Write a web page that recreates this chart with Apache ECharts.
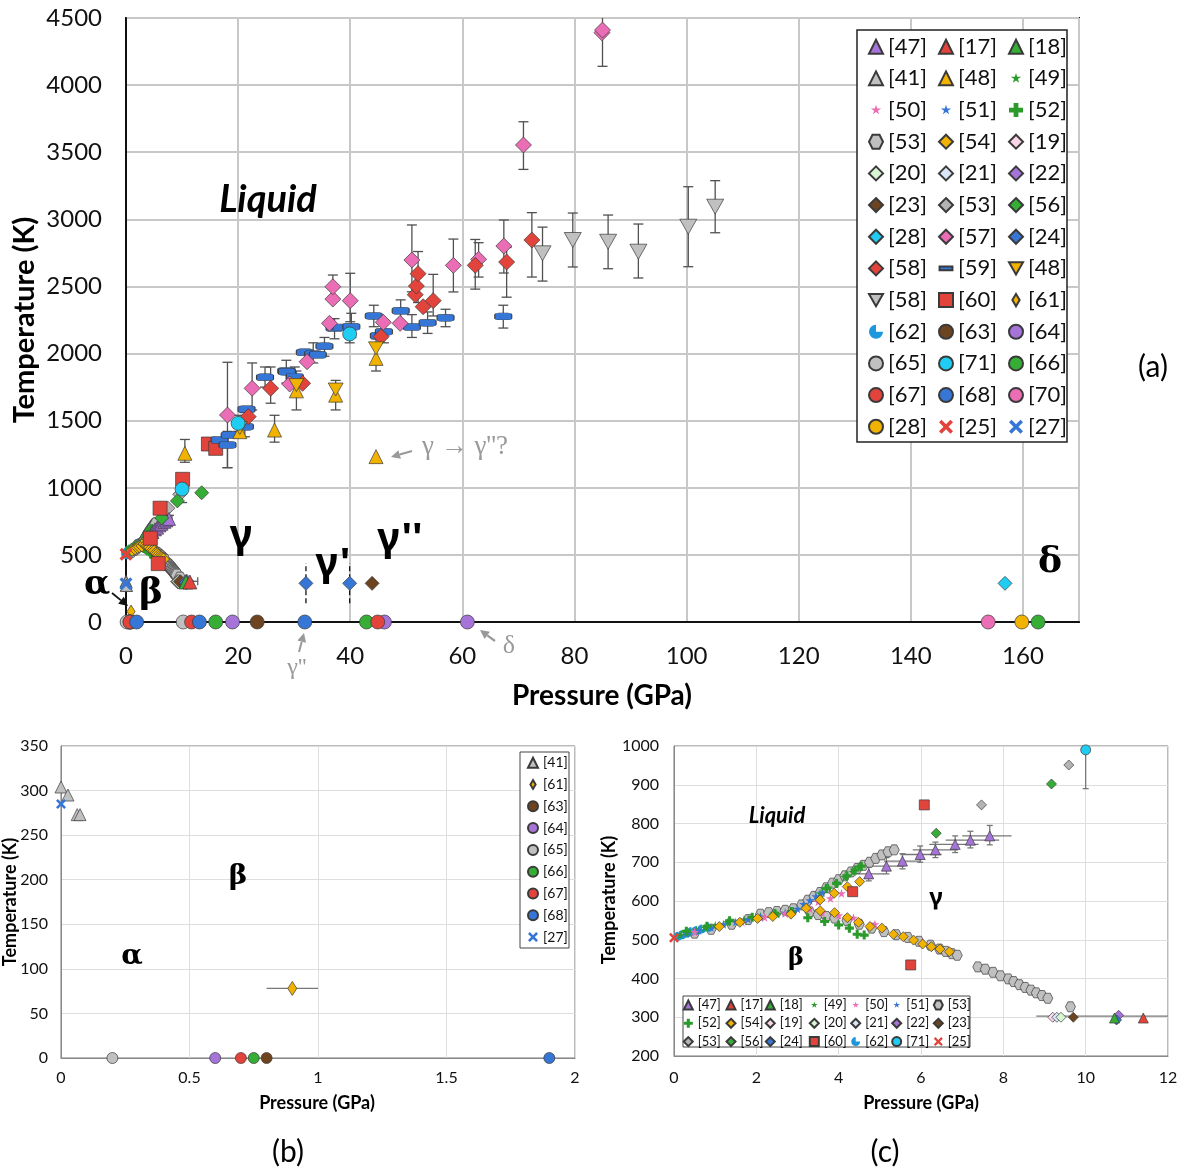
<!DOCTYPE html>
<html><head><meta charset="utf-8">
<script src="https://cdn.jsdelivr.net/npm/echarts@6/dist/echarts.min.js"></script>
<style>html,body{margin:0;padding:0;background:#fff}#c{width:1183px;height:1174px}</style>
</head><body><div id="c"></div>
<script>
// ================= DATA =================
// [P (GPa), T (K)]
const d47 = [[4.73,670],[5.16,690],[5.55,703],[5.98,720],[6.35,732],[6.83,746],[7.2,757],[7.67,768]];
const e47 = [[4.73,652,688],[5.16,670,712],[5.55,683,722],[5.98,700,742],[6.35,712,752],[6.83,725,768],[7.2,737,780],[7.67,745,795]];
const h47 = [[4.4,5.1,670],[4.8,5.6,690],[5.1,6.0,703],[5.5,6.5,720],[5.8,6.9,732],[6.2,7.4,746],[6.6,7.9,757],[7.0,8.2,768]];
const d17 = [[11.4,298]];
const d18 = [[10.7,298]];
const d19 = [[9.2,300]];
const d20 = [[9.4,300]];
const d21 = [[9.3,300]];
const d22 = [[10.8,305]];
const h22 = [[8.8,12.8,303]];
const d23 = [[9.7,300],[43.9,288]];
const d24 = [[10.75,293],[32.1,288],[39.9,288]];
const e24 = [[32.1,140,440],[39.9,140,440]];
const d25 = [[0,505]];
const d27 = [[0,285]];
const d41 = [[0,304],[0.027,295],[0.063,273],[0.074,273]];
const d28dia = [[156.8,288]];
const d28cir = [[159.8,0]];
const d48up = [[10.5,1257],[20.3,1418],[26.5,1430],[30.4,1722],[37.4,1690],[44.6,1964],[44.6,1232]];
const d48dn = [[20.3,1445],[30.4,1765],[37.4,1732],[44.6,2039]];
const e48 = [[10.5,1190,1360],[26.5,1340,1540],[30.4,1580,1870],[37.4,1580,1800],[44.6,1870,2110]];
const d49 = [[0.15,512],[0.35,519],[0.55,525],[0.75,531],[1.0,537],[1.3,545],[1.7,552],[2.1,560],[2.5,566],[2.9,574],[3.55,620],[3.75,635],[3.95,648],[4.15,662],[4.35,675],[4.5,688]];
const d50 = [[0.5,520],[1.65,546],[2.2,558],[2.7,568],[3.3,580],[3.5,598],[3.8,607],[4.07,620],[3.6,570],[4.0,563],[4.36,557],[4.88,540]];
const d51 = [[0.3,517],[0.6,524],[0.9,532],[1.2,540],[1.5,546],[1.8,553],[2.1,558],[2.4,565],[2.7,570],[3.0,580],[3.15,592],[3.3,602],[3.45,612],[3.6,622]];
const d52 = [[0.3,522],[0.8,535],[1.35,549],[1.9,558],[2.45,568],[2.85,573],[3.25,557],[3.66,547],[4.0,538],[4.26,530],[4.45,514],[4.62,512],[3.7,632],[3.95,645],[4.2,665],[4.4,680],[4.55,690]];
const d53hex = [[0.5,517],[0.9,527],[1.4,540],[1.8,552],[2.1,566],[2.3,570],[2.5,573],[2.7,576],[2.9,580],[3.1,590],[3.25,602],[3.4,612],[3.55,622],[3.7,634],[3.85,646],[4.0,655],[4.15,665],[4.3,675],[4.45,684],[4.6,692],[4.75,700],[4.9,710],[5.05,719],[5.2,727],[5.35,732],
  [3.3,572],[3.5,565],[3.7,560],[3.9,556],[4.2,550],[4.5,540],[4.8,530],[5.1,521],[5.4,513],[5.68,506],[5.95,496],[6.23,486],[6.45,476],[6.6,470],[6.75,464],[6.88,460],
  [7.38,430],[7.56,424],[7.75,416],[7.93,407],[8.12,399],[8.25,392],[8.39,384],[8.53,377],[8.67,370],[8.8,363],[8.94,356],[9.08,349],[9.63,327]];
const d53dia = [[7.47,848],[9.59,951]];
const d54 = [[1.1,534],[1.6,545],[2.03,555],[2.4,560],[2.84,566],[3.21,581],[3.55,603],[3.89,620],[4.21,637],[4.51,650],[3.55,575],[3.9,570],[4.21,557],[4.48,545],[4.76,534],[5.05,530],[5.33,514],[5.57,508],[5.82,499],[6.04,489],[6.25,482],[6.46,476],[6.69,469]];
const d56 = [[6.37,775],[9.17,902],[13.5,963]];
const d57 = [[18.1,1542],[22.5,1741],[29.2,1773],[32.3,1939],[36.3,2225],[36.9,2406],[36.9,2498],[40.0,2394],[45.9,2233],[48.9,2225],[51.0,2697],[58.4,2657],[62.9,2702],[67.4,2801],[70.9,3554],[84.9,4390],[85.0,4410]];
const e57 = [[18.1,1150,1935],[22.5,1580,1930],[36.9,2420,2585],[40.0,2237,2598],[51.0,2460,2958],[58.4,2459,2853],[62.9,2570,2826],[67.4,2600,2995],[70.9,3372,3727],[85.0,4140,4560]];
const d58dia = [[21.8,1530],[25.8,1741],[31.5,1778],[45.5,2126],[51.6,2438],[51.8,2503],[52.1,2595],[53.0,2349],[54.8,2394],[62.3,2657],[67.9,2682],[72.4,2846]];
const e58dia = [[25.8,1630,1900],[52.1,2380,2760],[54.8,2280,2590],[62.3,2480,2850],[67.9,2420,2790],[72.4,2570,3050]];
const d58tri = [[74.3,2747],[79.7,2846],[86.0,2833],[91.4,2759],[100.3,2945],[105.1,3094]];
const e58tri = [[74.3,2540,2942],[79.7,2645,3047],[86.0,2632,3032],[91.4,2563,2965],[100.3,2647,3243],[105.1,2900,3288]];
const d59 = [[16.7,1356],[18.1,1319],[18.5,1393],[21.2,1455],[21.5,1585],[24.8,1823],[28.6,1870],[28.7,1865],[30.1,1828],[31.9,2009],[33.4,1997],[34.2,1991],[35.4,2054],[37.2,2190],[38.4,2195],[40.2,2200],[44.2,2280],[45.1,2133],[46.0,2163],[49.0,2319],[51.0,2198],[53.8,2230],[57.0,2267],[67.3,2277]];
const e59 = [[18.1,1150,1420],[21.2,1380,1560],[24.8,1750,1900],[28.6,1780,1950],[30.1,1760,1900],[33.4,1930,2080],[35.4,1980,2120],[37.2,2110,2260],[40.2,2120,2300],[44.2,2200,2360],[46.0,2080,2250],[49.0,2240,2400],[51.0,2120,2290],[53.8,2150,2310],[57.0,2200,2330],[67.3,2190,2360]];
const d60 = [[4.34,624],[5.75,435],[6.08,848],[10.1,1063],[14.7,1326],[16.0,1294]];
const d61 = [[0.9,78]];
const h61 = [[0.8,1.0,78]];
const d62 = [[0.1,509],[0.2,513],[0.32,517],[0.42,521],[0.55,524],[0.68,528],[0.85,532]];
const d63 = [[0.8,0],[23.4,0]];
const d64 = [[0.6,0],[19.0,0],[46.1,0],[60.9,0]];
const d65 = [[0.2,0],[10.2,0]];
const d66 = [[0.75,0],[16.0,0],[42.9,0],[162.7,0]];
const d67 = [[0.7,0],[11.7,0],[44.9,0]];
const d68 = [[1.9,0],[13.1,0],[31.9,0]];
const d70 = [[153.8,0]];
const d71 = [[10.0,990],[20.0,1480],[39.9,2146]];
const e71 = [[10.0,890,1000],[20.0,1420,1540],[39.9,2080,2210]];

// legend columns
const legA1 = ['[47]','[41]','[50]','[53]','[20]','[23]','[28]','[58]','[58] ','[62]','[65]','[67]','[28] '];
const legA2 = ['[17]','[48]','[51]','[54]','[21]','[53] ','[57]','[59]','[60]','[63]','[71]','[68]','[25]'];
const legA3 = ['[18]','[49]','[52]','[19]','[22]','[56]','[24]','[48] ','[61]','[64]','[66]','[70]','[27]'];
const legB = ['[41]','[61]','[63]','[64]','[65]','[66]','[67]','[68]','[27]'];
const legC = [['[47]','[52]','[53] '],['[17]','[54]','[56]'],['[18]','[19]','[24]'],['[49]','[20]','[60]'],['[50]','[21]','[62]'],['[51]','[22]','[71]'],['[53]','[23]','[25]']];

// ================= STYLE =================
const F = 'Lato, "Open Sans", "DejaVu Sans", sans-serif';
const FS = '"DejaVu Serif", "Liberation Serif", serif';
const FG = '"Noto Sans", "DejaVu Sans", sans-serif';
const P = {purple:'#A673D8', red:'#E2443C', green:'#36AE36', dgreen:'#2A9A2A', gray:'#C0C0C0', gray2:'#B4B4B4', orange:'#F2B200', pink:'#EA6DB5', blue:'#3576D6', brown:'#6E4420', cyan:'#1FCDF3', cyanDark:'#1B98DC', lpink:'#FAD6E8', lgreen:'#D8F5D4', lblue:'#D8E6F8'};
const symTriDown = 'path://M0,0L100,0L50,87Z';
const symStar = 'path://M50,0L61,35L98,35L68,56L79,90L50,69L21,90L32,56L2,35L39,35Z';
const symPlus = 'path://M33,0H67V33H100V67H67V100H33V67H0V33H33Z';
const symX = 'path://M18,0L50,32L82,0L100,18L68,50L100,82L82,100L50,68L18,100L0,82L32,50L0,18Z';
const symHex = 'path://M25,0H75L100,50L75,100H25L0,50Z';
const symPac = 'path://M50,50L100,50A50,50 0 1 1 50,0Z';
const icoStar = 'path://M-15,-15M115,115M50,0L61,35L98,35L68,56L79,90L50,69L21,90L32,56L2,35L39,35Z';
const icoDash = 'path://M0,0M100,100M4,36H96V64H4Z';
const icoSmallDia = 'path://M0,0M100,100M50,6L76,50L50,94L24,50Z';
const LEG_ICON = {'[49]':icoStar,'[50]':icoStar,'[51]':icoStar,'[59]':icoDash,'[61]':icoSmallDia};
const NO_BORDER = {'[49]':1,'[50]':1,'[51]':1,'[25]':1,'[27]':1,'[52]':1,'[62]':1};

const STY = {
 '[47]':['triangle',P.purple,d47], '[17]':['triangle',P.red,d17], '[18]':['triangle',P.green,d18],
 '[41]':['triangle',P.gray,d41], '[48]':['triangle',P.orange,d48up], '[49]':[symStar,P.dgreen,d49],
 '[50]':[symStar,P.pink,d50], '[51]':[symStar,P.blue,d51], '[52]':[symPlus,P.dgreen,d52],
 '[53]':[symHex,P.gray,d53hex], '[54]':['diamond',P.orange,d54], '[19]':['diamond',P.lpink,d19],
 '[20]':['diamond',P.lgreen,d20], '[21]':['diamond',P.lblue,d21], '[22]':['diamond',P.purple,d22],
 '[23]':['diamond',P.brown,d23], '[53] ':['diamond',P.gray2,d53dia], '[56]':['diamond',P.green,d56],
 '[28]':['diamond',P.cyan,d28dia], '[57]':['diamond',P.pink,d57], '[24]':['diamond',P.blue,d24],
 '[58]':['diamond',P.red,d58dia], '[59]':['roundRect',P.blue,d59], '[48] ':[symTriDown,P.orange,d48dn],
 '[58] ':[symTriDown,P.gray,d58tri], '[60]':['rect',P.red,d60], '[61]':['diamond',P.orange,d61],
 '[62]':[symPac,P.cyanDark,d62], '[63]':['circle',P.brown,d63], '[64]':['circle',P.purple,d64],
 '[65]':['circle',P.gray,d65], '[71]':['circle',P.cyan,d71], '[66]':['circle',P.green,d66],
 '[67]':['circle',P.red,d67], '[68]':['circle',P.blue,d68], '[70]':['circle',P.pink,d70],
 '[28] ':['circle',P.orange,d28cir], '[25]':[symX,P.red,d25], '[27]':[symX,P.blue,d27]
};
const sizeA = n => ({'[49]':10,'[50]':10,'[51]':10,'[52]':11,'[53]':12,'[54]':12,'[62]':11,'[59]':[17,7],'[61]':[8,13],'[57]':16,'[58]':16,'[58] ':[17,15],'[48] ':[15,13],'[47]':13,'[25]':13,'[27]':13,'[41]':12}[n] || 14);
const sizeB = n => ({'[61]':[9,14],'[27]':10,'[41]':12}[n] || 11);
const sizeC = n => ({'[49]':9,'[50]':9,'[51]':9,'[52]':9,'[62]':9}[n] || 10);

const orderA = ['[53]','[53] ','[62]','[49]','[51]','[50]','[52]','[54]','[47]','[19]','[21]','[20]','[23]','[22]','[24]','[18]','[17]','[41]','[61]','[25]','[27]','[56]','[60]','[59]','[57]','[58]','[58] ','[48]','[48] ','[71]','[28]','[63]','[64]','[65]','[66]','[67]','[68]','[70]','[28] '];
const orderB = ['[41]','[61]','[65]','[64]','[67]','[66]','[63]','[68]','[27]'];
const orderC = ['[53]','[62]','[49]','[51]','[50]','[52]','[54]','[47]','[53] ','[19]','[21]','[20]','[23]','[22]','[24]','[18]','[17]','[56]','[60]','[71]','[25]'];

function scat(name, g, size) {
  const s = STY[name];
  const nb = NO_BORDER[name];
  return {type:'scatter', name, data:s[2], xAxisIndex:g, yAxisIndex:g, symbol:s[0], symbolSize:size,
    itemStyle:{color:s[1], borderColor: nb ? s[1] : '#3a3a3a', borderWidth: nb ? 0 : 0.7, opacity:1},
    emphasis:{disabled:true}, z:3, clip:true, silent:true};
}
function st(color, dash){ const o={stroke:color, lineWidth:1.3}; if(dash) o.lineDash=[5,3]; return o; }
function vErr(cap, color, dash){
  return function(params, api){
    const x=api.value(0), a=api.coord([x,api.value(1)]), b=api.coord([x,api.value(2)]);
    const ch=[{type:'line',shape:{x1:a[0],y1:a[1],x2:b[0],y2:b[1]},style:st(color,dash)}];
    if(cap){
      ch.push({type:'line',shape:{x1:a[0]-cap,y1:a[1],x2:a[0]+cap,y2:a[1]},style:st(color)});
      ch.push({type:'line',shape:{x1:b[0]-cap,y1:b[1],x2:b[0]+cap,y2:b[1]},style:st(color)});
    }
    return {type:'group',children:ch};
  };
}
function hErr(cap, color){
  return function(params, api){
    const y=api.value(2), a=api.coord([api.value(0),y]), b=api.coord([api.value(1),y]);
    const ch=[{type:'line',shape:{x1:a[0],y1:a[1],x2:b[0],y2:b[1]},style:st(color)}];
    if(cap){
      ch.push({type:'line',shape:{x1:a[0],y1:a[1]-cap,x2:a[0],y2:a[1]+cap},style:st(color)});
      ch.push({type:'line',shape:{x1:b[0],y1:b[1]-cap,x2:b[0],y2:b[1]+cap},style:st(color)});
    }
    return {type:'group',children:ch};
  };
}
function errSeries(g, data, fn, horiz){
  return {type:'custom', name:'err'+g, xAxisIndex:g, yAxisIndex:g, data, renderItem:fn, clip:true, z:2, silent:true,
    encode: horiz ? {x:[0,1], y:2} : {x:0, y:[1,2]}};
}

const series = [];
series.push(errSeries(0, [].concat(e57,e58dia,e58tri,e59,e48,e71,e47), vErr(5,'#505050')));
series.push(errSeries(0, [].concat(h47,h22,h61), hErr(4,'#606060'), true));
series.push(errSeries(0, e24, vErr(0,'#111',true)));
orderA.forEach(n => series.push(scat(n,0,sizeA(n))));
series.push(errSeries(1, h61, hErr(0,'#777'), true));
orderB.forEach(n => series.push(scat(n,1,sizeB(n))));
series.push(errSeries(2, [].concat(e47,e71), vErr(3,'#777')));
series.push(errSeries(2, [].concat(h47,h22), hErr(0,'#777'), true));
orderC.forEach(n => series.push(scat(n,2,sizeC(n))));

function legendCol(names, left, top, iw, fs, gap){
  return {orient:'vertical', left, top, padding:0, itemWidth:iw, itemHeight:iw, itemGap:gap, selectedMode:false, z:6,
    textStyle:{fontSize:fs, lineHeight:fs, fontFamily:F, color:'#111'},
    data:names.map(n => {
      const o = {name:n};
      if (LEG_ICON[n]) o.icon = LEG_ICON[n];
      if (NO_BORDER[n]) o.itemStyle = {color:STY[n][1], borderWidth:0};
      return o;
    })};
}
const legends = [
  legendCol(legA1, 868, 35.7, 14, 22, 9.67),
  legendCol(legA2, 938, 35.7, 14, 22, 9.67),
  legendCol(legA3, 1008, 35.7, 14, 22, 9.67),
  legendCol(legB, 527, 755.7, 10, 14, 7.8)
];
const legCx = [687.3,730,769.3,813.3,854.7,895.7,937.3];
legC.forEach((col,i) => legends.push(legendCol(col, legCx[i]-4.5, 998.5, 9, 13, 5.3)));

const plain = v => String(v);
function axes(g, min, max, step, fs, margin, lineColor, splitColor, splitW, fmt){
  return {gridIndex:g, type:'value', min, max, interval:step,
    axisLine:{show:true, onZero:false, lineStyle:{color:lineColor, width:splitW}},
    axisTick:{show:false},
    splitLine:{show:true, lineStyle:{color:splitColor, width:splitW}},
    axisLabel:{fontSize:fs, color:'#111', fontFamily:F, margin, formatter:fmt || plain}};
}

function arrow(x1,y1,x2,y2,color,w){
  const ang=Math.atan2(y2-y1,x2-x1), L=9, W=4.5;
  const bx=x2-L*Math.cos(ang), by=y2-L*Math.sin(ang);
  const px=-Math.sin(ang)*W, py=Math.cos(ang)*W;
  return [{type:'line',shape:{x1,y1,x2:bx,y2:by},style:{stroke:color,lineWidth:w},z:10},
          {type:'polygon',shape:{points:[[x2,y2],[bx+px,by+py],[bx-px,by-py]]},style:{fill:color},z:10}];
}
function txt(t,x,y,size,opts){
  opts=opts||{};
  return {type:'text', x, y, rotation:opts.rot||0, z:10,
    style:{text:t, fontSize:size, fontFamily:opts.ff||F, fontWeight:opts.fw||'normal', fontStyle:opts.fst||'normal',
      fill:opts.color||'#000', align:'center', verticalAlign:'middle'}};
}

const graphics = [
  {type:'rect', shape:{x:857,y:30,width:210,height:412}, style:{fill:'#fff',stroke:'#222',lineWidth:1.5}, z:3},
  {type:'rect', shape:{x:520,y:752,width:49,height:196}, style:{fill:'#fff',stroke:'#444',lineWidth:1}, z:3},
  {type:'rect', shape:{x:683,y:996,width:287,height:51}, style:{fill:'#fff',stroke:'#444',lineWidth:1}, z:3},
  // chart (a)
  txt('Liquid',268,200,38,{fw:'bold',fst:'italic'}),
  txt('γ',241,537,40,{ff:FG,fw:'bold'}),
  txt("γ'",333,565,40,{ff:FG,fw:'bold'}),
  txt("γ''",400,540,40,{ff:FG,fw:'bold'}),
  txt('α',97,585,34,{ff:FS,fw:'bold'}),
  txt('β',151,594,36,{ff:FS,fw:'bold'}),
  txt('δ',1050,563,36,{ff:FS,fw:'bold'}),
  txt("γ → γ''?",465,447,27,{ff:'"Liberation Serif", serif',color:'#9a9a9a'}),
  txt('δ',509,646,26,{ff:'"Liberation Serif", serif',color:'#9a9a9a'}),
  txt("γ''",297,668,24,{ff:'"Liberation Serif", serif',color:'#9a9a9a'}),
  txt('Temperature (K)',25,320,29,{fw:'bold',rot:Math.PI/2}),
  txt('Pressure (GPa)',602,696,28,{fw:'bold'}),
  txt('(a)',1153,367,30),
  ...arrow(112,593,128,606,'#111',1.8),
  ...arrow(412,451,391,457,'#999',2.2),
  ...arrow(495,641,480,630,'#999',2.2),
  ...arrow(299,652,304,633,'#999',2),
  // chart (b)
  txt('α',132,957,28,{ff:FS,fw:'bold'}),
  txt('β',238,877,28,{ff:FS,fw:'bold'}),
  txt('Temperature (K)',10,902,18,{fw:'bold',rot:Math.PI/2}),
  txt('Pressure (GPa)',317,1103,18,{fw:'bold'}),
  txt('(b)',288,1152,30),
  // chart (c)
  txt('Liquid',777,816,22,{fw:'bold',fst:'italic'}),
  txt('γ',936,898,24,{ff:FG,fw:'bold'}),
  txt('β',796,959,24,{ff:FS,fw:'bold'}),
  txt('Temperature (K)',609,900,18,{fw:'bold',rot:Math.PI/2}),
  txt('Pressure (GPa)',921,1103,18,{fw:'bold'}),
  txt('(c)',885,1152,30)
];

const chart = echarts.init(document.getElementById('c'), null, {renderer:'canvas'});
chart.setOption({
  animation:false,
  backgroundColor:'#fff',
  grid:[
    {left:126, top:18, width:953, height:604, show:true, borderColor:'#111', borderWidth:2, backgroundColor:'transparent', outerBoundsMode:'none'},
    {left:61, top:746, width:514, height:312, show:true, borderColor:'#777', borderWidth:1, outerBoundsMode:'none'},
    {left:674, top:746, width:494, height:310, show:true, borderColor:'#777', borderWidth:1, outerBoundsMode:'none'}
  ],
  xAxis:[
    axes(0,0,170,20,24,22,'#111','#c8c8c8',2, v => v > 165 ? '' : String(v)),
    axes(1,0,2,0.5,16,12,'#888','#dedede',1),
    axes(2,0,12,2,16,14,'#888','#dedede',1)
  ],
  yAxis:[
    axes(0,0,4500,500,24,24,'#111','#c8c8c8',2),
    axes(1,0,350,50,16,13,'#888','#dedede',1),
    axes(2,200,1000,100,16,15,'#888','#dedede',1)
  ],
  legend:legends,
  graphic:{elements:graphics},
  series
});
</script>
</body></html>
